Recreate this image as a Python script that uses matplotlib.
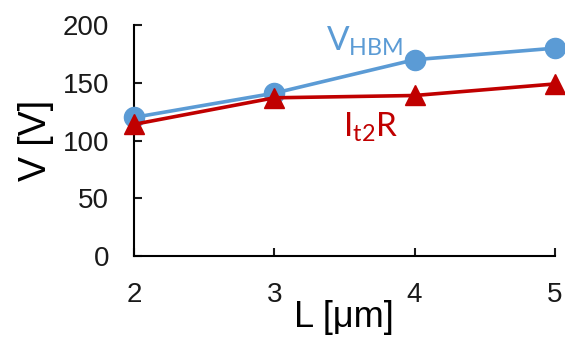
import matplotlib
matplotlib.use("Agg")
import matplotlib.pyplot as plt

# data
L_um = [2, 3, 4, 5]
v_hbm = [120, 141, 170, 180]
it2r = [114, 137, 139, 149]
x_ticks = [2, 3, 4, 5]
y_ticks = [0, 50, 100, 150, 200]

plt.rcParams['font.family'] = ['Liberation Sans', 'DejaVu Sans']
plt.rcParams['mathtext.fontset'] = 'custom'
plt.rcParams['mathtext.rm'] = 'Lato'

fig = plt.figure(figsize=(5.65, 3.39), dpi=100)
ax = fig.add_axes([0.237, 0.245, 0.745, 0.681])

blue = '#5B9BD5'
red = '#C00000'
ax.plot(L_um, v_hbm, color=blue, lw=2.6, marker='o', ms=14.5, clip_on=False, zorder=3)
ax.plot(L_um, it2r, color=red, lw=2.6, marker='^', ms=14, clip_on=False, zorder=4)

ax.set_xlim(2, 5)
ax.set_ylim(0, 200)
ax.set_xticks(x_ticks)
ax.set_yticks(y_ticks)
for s in ['top', 'right']:
    ax.spines[s].set_visible(False)
for s in ['left', 'bottom']:
    ax.spines[s].set_linewidth(1.5)
ax.tick_params(direction='in', length=6, width=1.5, labelsize=20, colors='#1a1a1a')
ax.tick_params(axis='x', pad=19)
ax.tick_params(axis='y', pad=18)

ax.set_xlabel('L [μm]', fontsize=26, labelpad=-6)
ax.set_ylabel('V [V]', fontsize=27, labelpad=6)

ax.text(3.37, 178, r'$\mathrm{V_{HBM}}$', color=blue, fontsize=24,
        ha='left', va='baseline')
ax.text(3.49, 103, r'$\mathrm{I_{t2}R}$', color=red, fontsize=24,
        ha='left', va='baseline')

plt.savefig('out.png', dpi=100)
plt.close('all')
